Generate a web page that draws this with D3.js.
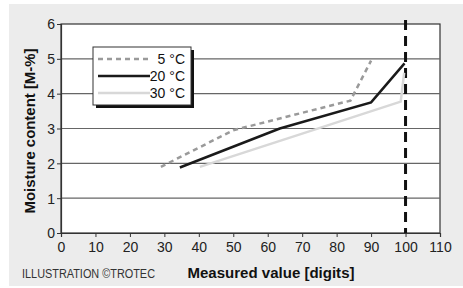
<!DOCTYPE html>
<html>
<head>
<meta charset="utf-8">
<script src="https://cdn.jsdelivr.net/npm/d3@7"></script>
<style>
  body { margin: 0; background: #fff; }
  svg { display: block; }
  text { font-family: "Liberation Sans", Arial, sans-serif; }
</style>
</head>
<body>
<svg id="chart" width="463" height="288"></svg>
<script>
// data
var xTicks = [0, 10, 20, 30, 40, 50, 60, 70, 80, 90, 100, 110];
var yTicks = [0, 1, 2, 3, 4, 5, 6];
var seriesNames = ["5 °C", "20 °C", "30 °C"];
var temp5 = [[29, 1.9], [50, 2.95], [84, 3.8], [90, 4.95]];
var temp20 = [[34.5, 1.88], [63.5, 3.0], [90, 3.75], [99.7, 4.87]];
var temp30 = [[40.3, 1.9], [98.6, 3.77], [99.6, 4.6]];
var limitX = 100;

var svg = d3.select("#chart");

// grey backdrop
svg.append("rect").attr("x", 9).attr("y", 4).attr("width", 454).attr("height", 282).attr("fill", "#ececec");

var x = d3.scaleLinear().domain([0, 110]).range([61, 440]);
var y = d3.scaleLinear().domain([0, 6]).range([233, 24]);

svg.append("rect")
    .attr("x", x(0)).attr("y", y(6))
    .attr("width", x(110) - x(0)).attr("height", y(0) - y(6))
    .attr("fill", "#fff").attr("stroke", "#333").attr("stroke-width", 1.2);

// horizontal grid
svg.append("g").selectAll("line").data(yTicks.slice(1, -1)).join("line")
    .attr("x1", x(0)).attr("x2", x(110))
    .attr("y1", d => y(d)).attr("y2", d => y(d))
    .attr("stroke", "#666").attr("stroke-width", 1.2);

var xAxis = svg.append("g").attr("transform", "translate(0," + y(0) + ")")
    .call(d3.axisBottom(x).tickValues(xTicks).tickFormat(d3.format("d")).tickSize(4).tickPadding(5));
var yAxis = svg.append("g").attr("transform", "translate(" + x(0) + ",0)")
    .call(d3.axisLeft(y).tickValues(yTicks).tickFormat(d3.format("d")).tickSize(4).tickPadding(2));
[xAxis, yAxis].forEach(function (g) {
    g.select(".domain").attr("stroke", "#333").attr("stroke-width", 1.2);
    g.selectAll(".tick line").attr("stroke", "#333");
    g.selectAll(".tick text").attr("font-size", 14).attr("fill", "#222")
        .style("font-family", '"Liberation Sans", Arial, sans-serif');
});
yAxis.selectAll(".tick text").attr("dy", "0.35em");

// dashed limit line at 100 digits
svg.append("line")
    .attr("x1", x(limitX)).attr("x2", x(limitX))
    .attr("y1", y(6) - 4).attr("y2", y(0))
    .attr("stroke", "#111").attr("stroke-width", 3).attr("stroke-dasharray", "10,6");

var line = d3.line().x(d => x(d[0])).y(d => y(d[1]));
var styles = [
    { data: temp5, color: "#9a9a9a", width: 2.5, dash: "5,4" },
    { data: temp20, color: "#1a1a1a", width: 2.5, dash: null },
    { data: temp30, color: "#d8d8d8", width: 2.5, dash: null }
];
// draw light line first, then black, then dashed
[2, 1, 0].forEach(function (i) {
    var s = styles[i];
    svg.append("path").datum(s.data)
        .attr("d", line).attr("fill", "none")
        .attr("stroke", s.color).attr("stroke-width", s.width)
        .attr("stroke-dasharray", s.dash);
});

// legend
var lg = svg.append("g");
lg.append("rect").attr("x", 96).attr("y", 50).attr("width", 98).attr("height", 58).attr("fill", "#111");
lg.append("rect").attr("x", 93).attr("y", 47).attr("width", 98).attr("height", 58)
    .attr("fill", "#fff").attr("stroke", "#333").attr("stroke-width", 1);
var legY = [59, 76, 93];
seriesNames.forEach(function (name, i) {
    var s = styles[i];
    lg.append("line").attr("x1", 98).attr("x2", 150).attr("y1", legY[i]).attr("y2", legY[i])
        .attr("stroke", s.color).attr("stroke-width", s.width).attr("stroke-dasharray", s.dash);
    lg.append("text").attr("x", 185).attr("y", legY[i] + 5).attr("text-anchor", "end")
        .attr("font-size", 14).attr("fill", "#111").text(name);
});

// titles
svg.append("text").attr("x", 271).attr("y", 278).attr("text-anchor", "middle")
    .attr("font-size", 15).attr("font-weight", "bold").attr("fill", "#111")
    .attr("textLength", 167).attr("lengthAdjust", "spacingAndGlyphs")
    .text("Measured value [digits]");
svg.append("text").attr("transform", "translate(35,131) rotate(-90)").attr("text-anchor", "middle")
    .attr("font-size", 15).attr("font-weight", "bold").attr("fill", "#111")
    .attr("textLength", 165).attr("lengthAdjust", "spacingAndGlyphs")
    .text("Moisture content [M-%]");
svg.append("text").attr("x", 22).attr("y", 278)
    .attr("font-size", 12).attr("fill", "#333")
    .attr("textLength", 133).attr("lengthAdjust", "spacingAndGlyphs")
    .text("ILLUSTRATION ©TROTEC");
</script>
</body>
</html>
